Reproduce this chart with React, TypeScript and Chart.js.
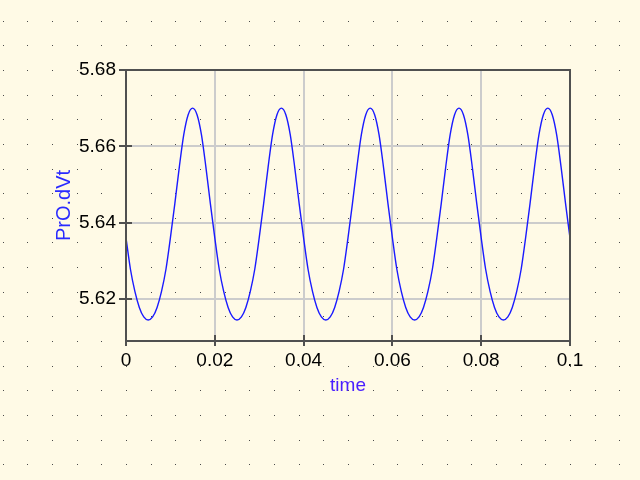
import { useEffect, useRef } from 'react';
import { Chart, registerables } from 'chart.js';

Chart.register(...registerables);

// time in seconds
const timeValues = [
  0, 0.001, 0.002, 0.003, 0.004, 0.005, 0.006, 0.007, 0.008, 0.009,
  0.01, 0.011, 0.012, 0.013, 0.014, 0.015, 0.016, 0.017, 0.018, 0.019,
  0.02, 0.021, 0.022, 0.023, 0.024, 0.025, 0.026, 0.027, 0.028, 0.029,
  0.03, 0.031, 0.032, 0.033, 0.034, 0.035, 0.036, 0.037, 0.038, 0.039,
  0.04, 0.041, 0.042, 0.043, 0.044, 0.045, 0.046, 0.047, 0.048, 0.049,
  0.05, 0.051, 0.052, 0.053, 0.054, 0.055, 0.056, 0.057, 0.058, 0.059,
  0.06, 0.061, 0.062, 0.063, 0.064, 0.065, 0.066, 0.067, 0.068, 0.069,
  0.07, 0.071, 0.072, 0.073, 0.074, 0.075, 0.076, 0.077, 0.078, 0.079,
  0.08, 0.081, 0.082, 0.083, 0.084, 0.085, 0.086, 0.087, 0.088, 0.089,
  0.09, 0.091, 0.092, 0.093, 0.094, 0.095, 0.096, 0.097, 0.098, 0.099,
  0.1,
];

// PrO.dVt values
const dVtValues = [
  5.636, 5.6278, 5.622, 5.6178, 5.6153, 5.6145, 5.6153, 5.6178, 5.622, 5.6278,
  5.636, 5.645, 5.6545, 5.663, 5.6683, 5.67, 5.6683, 5.663, 5.6545, 5.645,
  5.636, 5.6278, 5.622, 5.6178, 5.6153, 5.6145, 5.6153, 5.6178, 5.622, 5.6278,
  5.636, 5.645, 5.6545, 5.663, 5.6683, 5.67, 5.6683, 5.663, 5.6545, 5.645,
  5.636, 5.6278, 5.622, 5.6178, 5.6153, 5.6145, 5.6153, 5.6178, 5.622, 5.6278,
  5.636, 5.645, 5.6545, 5.663, 5.6683, 5.67, 5.6683, 5.663, 5.6545, 5.645,
  5.636, 5.6278, 5.622, 5.6178, 5.6153, 5.6145, 5.6153, 5.6178, 5.622, 5.6278,
  5.636, 5.645, 5.6545, 5.663, 5.6683, 5.67, 5.6683, 5.663, 5.6545, 5.645,
  5.636, 5.6278, 5.622, 5.6178, 5.6153, 5.6145, 5.6153, 5.6178, 5.622, 5.6278,
  5.636, 5.645, 5.6545, 5.663, 5.6683, 5.67, 5.6683, 5.663, 5.6545, 5.645,
  5.636,
];

const xTickValues = [0, 0.02, 0.04, 0.06, 0.08, 0.1];
const yTickValues = [5.62, 5.64, 5.66, 5.68];
const xMin = 0;
const xMax = 0.1;
const yMin = 5.609;
const yMax = 5.68;

const BG = '#fffae6';
const FONT = "'Liberation Sans', Arial, sans-serif";

const decor = {
  id: 'decor',
  beforeDraw(chart: any) {
    const { ctx, chartArea: a, width, height } = chart;
    ctx.save();
    ctx.fillStyle = BG;
    ctx.fillRect(0, 0, width, height);
    const dx = (a.right - a.left) / 18;
    const dy = (a.bottom - a.top) / 11;
    ctx.fillStyle = '#4a4a4a';
    for (let i = -12; i < 40; i++) {
      const x = Math.round(a.left + i * dx);
      if (x < 0 || x >= width) continue;
      for (let j = -12; j < 30; j++) {
        const y = Math.round(a.top + j * dy);
        if (y < 0 || y >= height) continue;
        ctx.fillRect(x, y, 1, 1);
      }
    }
    ctx.restore();
  },
  afterDraw(chart: any) {
    const { ctx, chartArea: a, scales } = chart;
    ctx.save();
    ctx.strokeStyle = '#505050';
    ctx.lineWidth = 2;
    ctx.strokeRect(a.left, a.top, a.right - a.left, a.bottom - a.top);
    ctx.beginPath();
    scales.x.ticks.forEach((t: any) => {
      const x = Math.round(scales.x.getPixelForValue(t.value));
      ctx.moveTo(x, a.bottom - 6);
      ctx.lineTo(x, a.bottom + 5);
    });
    scales.y.ticks.forEach((t: any) => {
      const y = Math.round(scales.y.getPixelForValue(t.value));
      ctx.moveTo(a.left - 7, y);
      ctx.lineTo(a.left + 6, y);
    });
    ctx.stroke();
    ctx.restore();
  },
};

export default function App() {
  const ref = useRef<HTMLCanvasElement>(null);

  useEffect(() => {
    const points = timeValues.map((t, i) => ({ x: t, y: dVtValues[i] }));
    const chart = new Chart(ref.current as HTMLCanvasElement, {
      type: 'line',
      data: {
        datasets: [
          {
            label: 'PrO.dVt',
            data: points,
            borderColor: '#1a1aff',
            borderWidth: 1.4,
            pointRadius: 0,
            fill: false,
            cubicInterpolationMode: 'monotone',
          },
        ],
      },
      options: {
        animation: false,
        responsive: false,
        maintainAspectRatio: false,
        devicePixelRatio: 1,
        layout: { padding: { left: 48, top: 70, right: 70, bottom: 79 } },
        plugins: {
          legend: { display: false },
          tooltip: { enabled: false },
        },
        scales: {
          x: {
            type: 'linear',
            min: xMin,
            max: xMax,
            afterFit: (s: any) => {
              s.height = 60;
            },
            afterBuildTicks: (s: any) => {
              s.ticks = xTickValues.map((v) => ({ value: v }));
            },
            ticks: {
              padding: 8,
              color: '#000',
              font: { family: FONT, size: 19 },
              callback: (v: any) => String(parseFloat(Number(v).toFixed(3))),
            },
            grid: { color: '#cccccc', lineWidth: 2, drawTicks: false },
            border: { display: false },
            title: {
              display: true,
              text: 'time',
              color: '#4a1fff',
              font: { family: FONT, size: 19 },
              padding: { top: 4, bottom: 4 },
            },
          },
          y: {
            type: 'linear',
            min: yMin,
            max: yMax,
            afterFit: (s: any) => {
              s.width = 78;
            },
            afterBuildTicks: (s: any) => {
              s.ticks = yTickValues.map((v) => ({ value: v }));
            },
            ticks: {
              padding: 10,
              color: '#000',
              font: { family: FONT, size: 19 },
              callback: (v: any) => Number(v).toFixed(2),
            },
            grid: { color: '#cccccc', lineWidth: 2, drawTicks: false },
            border: { display: false },
            title: {
              display: true,
              text: 'PrO.dVt',
              color: '#2a2aff',
              font: { family: FONT, size: 20 },
              padding: { top: 4, bottom: 4 },
            },
          },
        },
      },
      plugins: [decor],
    });
    return () => chart.destroy();
  }, []);

  return (
    <div style={{ position: 'fixed', left: 0, top: 0, width: 640, height: 480 }}>
      <canvas ref={ref} width={640} height={480} style={{ display: 'block' }} />
    </div>
  );
}
